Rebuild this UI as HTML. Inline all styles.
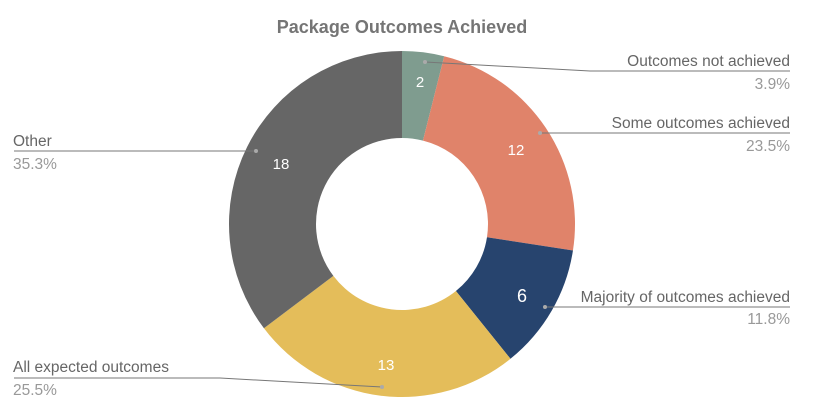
<!DOCTYPE html>
<html><head><meta charset="utf-8"><style>
html,body{margin:0;padding:0;background:#fff;}
svg{display:block;font-family:"Liberation Sans",sans-serif;}
</style></head><body>
<svg id="c" width="816" height="404" viewBox="0 0 816 404" xmlns="http://www.w3.org/2000/svg">
<text x="402" y="33" text-anchor="middle" font-size="18" font-weight="bold" fill="#757575">Package Outcomes Achieved</text>
<g id="slices"></g>
<g fill="none" stroke="#777" stroke-width="1">
<polyline points="425,62 590,71 790,71"/>
<polyline points="540,133 790,133"/>
<polyline points="545,307 790,307"/>
<polyline points="256,151 14,151"/>
<polyline points="382,387 220,378 14,378"/>
</g>
<g fill="#aaa">
<circle cx="425" cy="62" r="2"/><circle cx="540" cy="133" r="2"/><circle cx="545" cy="307" r="2"/><circle cx="256" cy="151" r="2"/><circle cx="382" cy="387" r="2"/>
</g>
<g font-size="15.5" fill="#666">
<text x="790" y="66" text-anchor="end">Outcomes not achieved</text>
<text x="790" y="128" text-anchor="end">Some outcomes achieved</text>
<text x="790" y="302" text-anchor="end">Majority of outcomes achieved</text>
<text x="13" y="146">Other</text>
<text x="13" y="372">All expected outcomes</text>
</g>
<g font-size="15.5" fill="#999">
<text x="790" y="89" text-anchor="end">3.9%</text>
<text x="790" y="151" text-anchor="end">23.5%</text>
<text x="790" y="324" text-anchor="end">11.8%</text>
<text x="13" y="169">35.3%</text>
<text x="13" y="395">25.5%</text>
</g>
<g fill="#fff" font-size="15" text-anchor="middle">
<text x="420" y="87">2</text>
<text x="516" y="155">12</text>
<text x="522" y="302" font-size="18">6</text>
<text x="386" y="370">13</text>
<text x="281" y="169">18</text>
</g>
</svg>
<script>
(function(){
var cx=402,cy=224,R=173,r=86;
var data=[[2,"#7f9c8f"],[12,"#e0836a"],[6,"#27446e"],[13,"#e4bd5a"],[18,"#666666"]];
var tot=51,a=0,g=document.getElementById("slices"),s="";
function pt(rad,ang){return [cx+rad*Math.sin(ang),cy-rad*Math.cos(ang)];}
data.forEach(function(d){
 var a0=a/tot*2*Math.PI;a+=d[0];var a1=a/tot*2*Math.PI;
 var lg=(a1-a0)>Math.PI?1:0;
 var p0=pt(R,a0),p1=pt(R,a1),q1=pt(r,a1),q0=pt(r,a0);
 s+='<path fill="'+d[1]+'" d="M'+p0+' A'+R+','+R+' 0 '+lg+' 1 '+p1+' L'+q1+' A'+r+','+r+' 0 '+lg+' 0 '+q0+' Z"/>';
});
g.innerHTML=s;
})();
</script>
</body></html>
